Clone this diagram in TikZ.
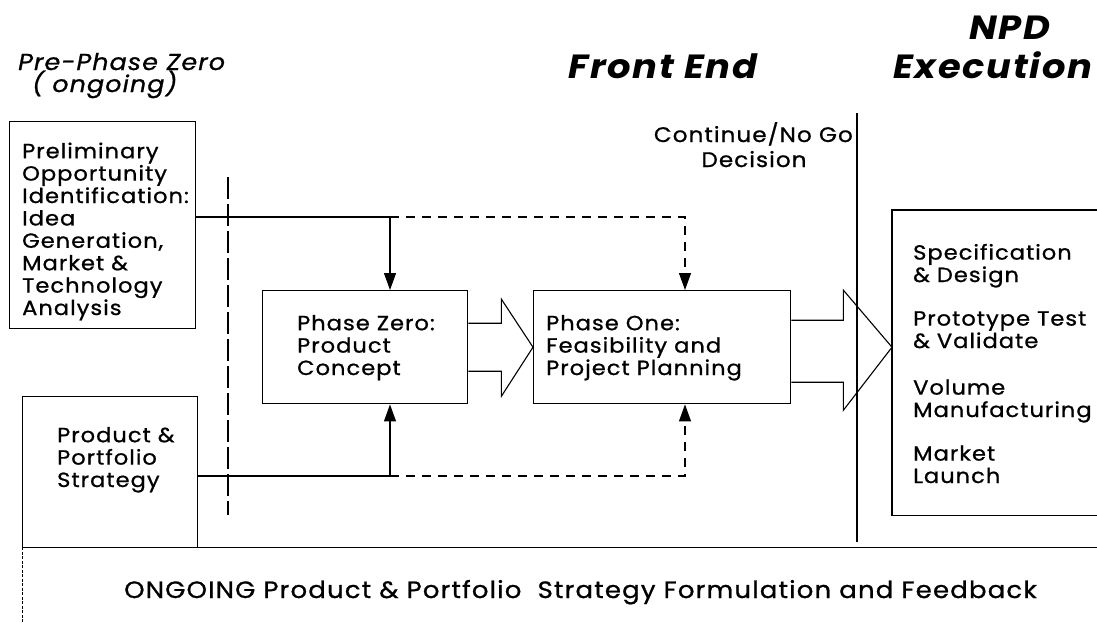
\documentclass[tikz,border=0pt]{standalone}
\usepackage{fontspec}
\setmainfont{Poppins}[FakeStretch=1.1, LetterSpace=5,
  UprightFeatures={FakeBold=0.9}, ItalicFeatures={FakeBold=0.9}]
\usetikzlibrary{arrows.meta,calc}

\begin{document}
\begin{tikzpicture}[x=1pt,y=-1pt,
  box/.style={draw=black, line width=1.4pt, inner sep=0pt, anchor=north west},
  % multi-line texts are placed by the baseline of their last line
  txt/.style={anchor=base west, inner sep=0pt, align=left,
              font=\fontsize{20.5}{22.4}\selectfont},
  ttl/.style={anchor=base west, inner sep=0pt, font=\fontsize{33.5}{36}\selectfont\bfseries\itshape},
  flow/.style={line width=1.1pt, -{Triangle[length=17pt,width=12pt]}},
  dflow/.style={flow, dash pattern=on 9pt off 7pt},
  hollow/.style={draw=black, line width=1.1pt, fill=white, line join=miter},
]
\useasboundingbox (0,0) rectangle (1097,622);

% headings
\node[anchor=base west, inner sep=0pt, font=\fontsize{23}{22}\selectfont\itshape, align=left]
  (hpre) at (18,92) {Pre-Phase Zero\\\hspace*{14pt}( ongoing)};
\node[ttl] (hfront) at (568,78) {Front End};
\node[ttl, anchor=base] (hnpd) at (1010,39) {NPD};
\node[ttl] (hexec) at (893,78) {Execution};

% boxes
\node[box, minimum width=186pt, minimum height=207pt] (pre) at (9,121) {};
\node[box, minimum width=175pt, minimum height=151pt] (pps) at (22,396) {};
\node[box, minimum width=205pt, minimum height=113pt] (p0) at (262,290) {};
\node[box, minimum width=257pt, minimum height=113pt] (p1) at (533,290) {};
\node[inner sep=0pt, anchor=north west, minimum width=205pt, minimum height=305pt] (npd) at (892,210) {};
\draw[line width=1.4pt] (npd.north east) -- (npd.north west) -- (npd.south west) -- (npd.south east);

% box texts
\node[txt] (tpre) at (22,315) {Preliminary\\Opportunity\\Identification:\\Idea\\Generation,\\Market \&\\Technology\\Analysis};
\node[txt] (tpps) at (57,487) {Product \&\\Portfolio\\Strategy};
\node[txt] (tp0) at (297,375) {Phase Zero:\\Product\\Concept};
\node[txt] (tp1) at (546,375) {Phase One:\\Feasibility and\\Project Planning};
\node[txt] (tnpd1) at (913,282) {Specification\\\& Design};
\node[txt] (tnpd2) at (913,348) {Prototype Test\\\& Validate};
\node[txt] (tnpd3) at (913,417) {Volume\\Manufacturing};
\node[txt] (tnpd4) at (913,483) {Market\\Launch};

% decision gate
\coordinate (gtop) at (857,113);
\coordinate (gbot) at (857,542);
\node[txt, anchor=base east, font=\fontsize{21}{22}\selectfont] (tcont) at (853,142) {Continue/No Go};
\node[txt, anchor=base, font=\fontsize{21}{22}\selectfont] (tdec) at (754,167) {Decision};

% ongoing strip
\coordinate (stl) at (22,547);
\coordinate (str) at (1097,547);
\coordinate (sbl) at (22,622);
\draw[line width=1pt] (stl) -- (str);
\draw[line width=0.8pt, dash pattern=on 3pt off 1.5pt] (stl) -- (sbl);
\node[txt, font=\fontsize{23.6}{24}\selectfont] (tong) at (124,598) {ONGOING Product \& Portfolio\ \ Strategy Formulation and Feedback};

% pre-phase boundary
\coordinate (btop) at (228,177);
\coordinate (bbot) at (228,515);
\draw[line width=1.4pt, dash pattern=on 22pt off 5pt] (btop) -- (bbot);

% feeds into the phases
\coordinate (j0) at (390,217);
\coordinate (j1) at (685,217);
\coordinate (j2) at (390,476);
\coordinate (j3) at (685,476);
\draw[flow] (pre.east |- j0) -- (j0) -- (j0 |- p0.north);
\draw[dflow] (j0) -- (j1) -- (j1 |- p1.north);
\draw[flow] (pps.east |- j2) -- (j2) -- (j2 |- p0.south);
\draw[dflow] (j2) -- (j3) -- (j3 |- p1.south);

% block arrows
\draw[hollow] ($(p0.east)+(0,-24)$) -- ($(p0.east)+(33,-24)$) -- ($(p0.east)+(33,-48)$)
  -- (p1.west) -- ($(p0.east)+(33,49)$) -- ($(p0.east)+(33,24)$) -- ($(p0.east)+(0,24)$);
\draw[hollow] ($(p1.east)+(0,-27)$) -- ($(p1.east)+(52,-27)$) -- ($(p1.east)+(52,-57)$)
  -- (npd.west |- p1.east) -- ($(p1.east)+(52,63)$) -- ($(p1.east)+(52,35)$) -- ($(p1.east)+(0,35)$);

\draw[line width=1.4pt] (gtop) -- (gbot);
\end{tikzpicture}
\end{document}
